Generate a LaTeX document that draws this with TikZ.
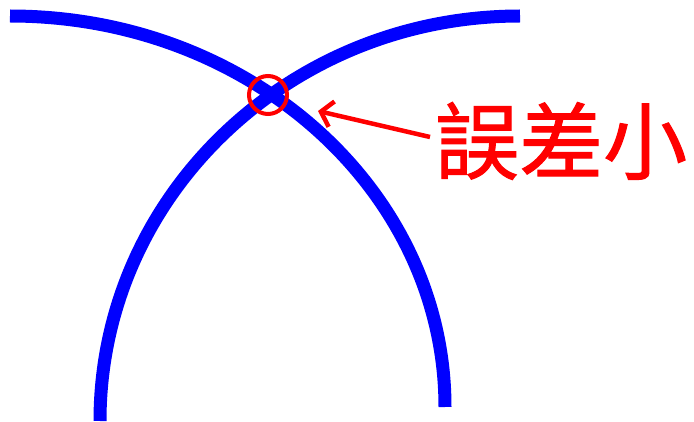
\documentclass[tikz,border=0pt]{standalone}
\usepackage{fontspec}
\newfontfamily\cjk[FakeBold=1.2]{Noto Sans CJK SC}
\usetikzlibrary{arrows.meta}
\begin{document}
\begin{tikzpicture}[x=1pt,y=1pt,
  curve/.style={draw=blue, line width=13pt},
  redring/.style={circle, draw=red, line width=4pt, minimum size=38pt, inner sep=0pt},
  ptr/.style={draw=red, line width=4.5pt, -{Straight Barb[length=11pt,width=26pt]}},
  lbltext/.style={text=red, font=\cjk\fontsize{84}{84}\selectfont, inner sep=0pt}]
\useasboundingbox (0,0) rectangle (694,421);
\draw[curve] (10,405) arc[start angle=90,end angle=0,x radius=435,y radius=391];
\draw[curve] (520,405) arc[start angle=90,end angle=180,x radius=420,y radius=405];
\node[redring] (ring) at (268,326) {};
\node[lbltext, anchor=base west] (lbl) at (435,248) {誤差小};
\coordinate (tail) at (430,284);
\coordinate (tip) at (318,310);
\draw[ptr] (tail) -- (tip);
\end{tikzpicture}
\end{document}
